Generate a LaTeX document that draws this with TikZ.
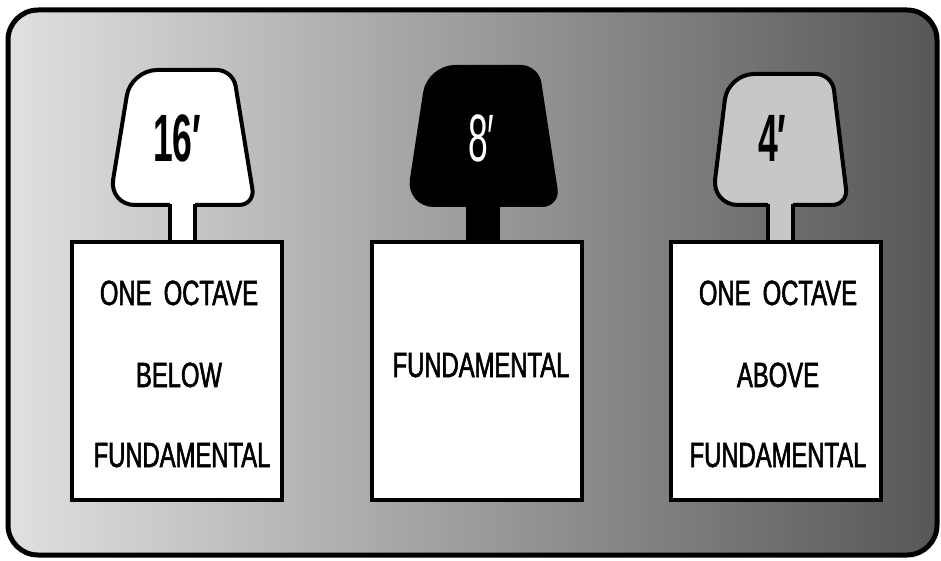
\documentclass[tikz,border=0pt]{standalone}
\usepackage{fontspec}
\newfontfamily\boxfont[FakeStretch=0.68,FakeBold=1.6]{Liberation Sans}
\newfontfamily\numfont[FakeStretch=0.53]{Liberation Sans}
\newcommand\stoptab[7]{% name, center x, top y, top half w, bottom half w, fill, stem half w
  \fill[#6] (#2-#7,190) rectangle (#2+#7,243);
  \draw[tabline,fill=#6] (#2,205) [rounded corners=26pt] -- (#2-#5,205) -- (#2-#4,#3)
     [rounded corners=16pt] -- (#2+#4,#3) -- (#2+#5,205) [rounded corners=26pt] -- cycle;
  \fill[#6] (#2-#7,200) rectangle (#2+#7,244);
  \draw[tabline] (#2-#7,204) -- (#2-#7,243) (#2+#7,204) -- (#2+#7,243);
  \coordinate (#1) at (#2,205);
}
\begin{document}
\begin{tikzpicture}[x=1pt,y=-1pt,
  frame/.style={line width=5pt, rounded corners=30pt},
  tabline/.style={line width=4pt, line join=round},
  stopbox/.style={draw=black, line width=4pt, fill=white, inner sep=0pt,
    minimum width=210pt, minimum height=258pt},
  boxtext/.style={font=\boxfont\fontsize{35}{35}\selectfont, inner sep=0pt, anchor=base},
  numtext/.style={font=\numfont\bfseries\fontsize{67}{67}\selectfont, inner sep=0pt, anchor=base west}]
\useasboundingbox (0,0) rectangle (941,561);
\shade[left color=black!12, middle color=black!36, right color=black!66, rounded corners=30pt]
  (8,10) rectangle (937,555);
\draw[frame] (8,10) rectangle (937,555);

% tabs
\stoptab{tab1}{182}{70}{51}{73}{white}{12.5}
\stoptab{tab2}{483}{67}{54}{75}{black}{15}
\stoptab{tab3}{780}{74}{52}{68}{black!22}{12.5}

% boxes
\node[stopbox] (box1) at (177,371) {};
\node[stopbox] (box2) at (477,371) {};
\node[stopbox] (box3) at (776,371) {};

% tab labels
\node[numtext] (n16) at (153,162) {16′};
\node[numtext, text=white, font=\numfont\fontsize{67}{67}\selectfont] (n8) at (468,162) {8′};
\node[numtext] (n4) at (758,162) {4′};

% box texts
\node[boxtext] (b1l1) at (179,305) {ONE\hspace{0.35em}OCTAVE};
\node[boxtext] (b1l2) at (179,387) {BELOW};
\node[boxtext] (b1l3) at (182,467) {FUNDAMENTAL};
\node[boxtext] (b2l1) at (481,377) {FUNDAMENTAL};
\node[boxtext] (b3l1) at (778,305) {ONE\hspace{0.35em}OCTAVE};
\node[boxtext] (b3l2) at (778,387) {ABOVE};
\node[boxtext] (b3l3) at (778,467) {FUNDAMENTAL};
\end{tikzpicture}
\end{document}
